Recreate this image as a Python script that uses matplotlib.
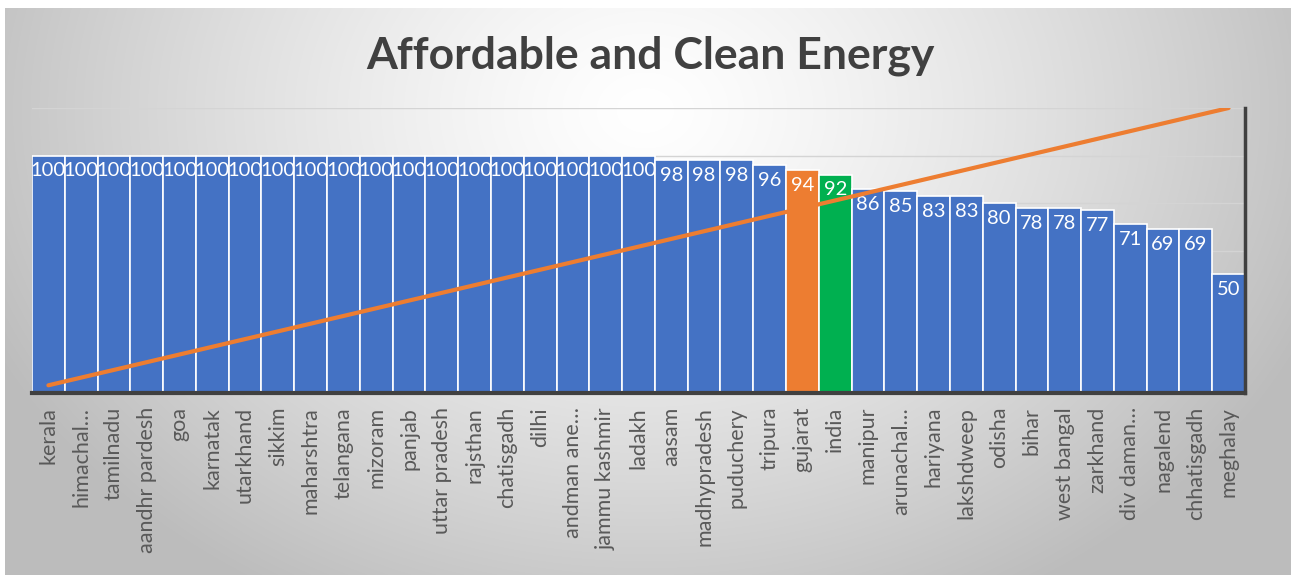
import numpy as np
import matplotlib.pyplot as plt
from matplotlib import font_manager

# Data
states = ["kerala", "himachal…", "tamilnadu", "aandhr pardesh", "goa", "karnatak",
          "utarkhand", "sikkim", "maharshtra", "telangana", "mizoram", "panjab",
          "uttar pradesh", "rajsthan", "chatisgadh", "dilhi", "andman ane…",
          "jammu kashmir", "ladakh", "aasam", "madhypradesh", "puduchery", "tripura",
          "gujarat", "india", "manipur", "arunachal…", "hariyana", "lakshdweep",
          "odisha", "bihar", "west bangal", "zarkhand", "div daman…", "nagalend",
          "chhatisgadh", "meghalay"]
scores = [100, 100, 100, 100, 100, 100, 100, 100, 100, 100, 100, 100, 100, 100,
          100, 100, 100, 100, 100, 98, 98, 98, 96, 94, 92, 86, 85, 83, 83, 80, 78,
          78, 77, 71, 69, 69, 50]
ranks = [1, 2, 3, 4, 5, 6, 7, 8, 9, 10, 11, 12, 13, 14, 15, 16, 17, 18, 19, 20,
         21, 22, 23, 24, 25, 26, 27, 28, 29, 30, 31, 32, 33, 34, 35, 36, 37]
highlight = {"gujarat": "#ED7D31", "india": "#00B050"}

names = {f.name for f in font_manager.fontManager.ttflist}
font = "Liberation Sans Narrow" if "Liberation Sans Narrow" in names else "Lato"

W, H = 1291, 575
fig = plt.figure(figsize=(W / 100, H / 100), dpi=100)

# radial grey gradient background
bg = fig.add_axes([0, 0, 1, 1], zorder=-10)
yy, xx = np.mgrid[0:H, 0:W]
d = np.sqrt(((xx - 645) / 720.0) ** 2 + ((yy - 110) / 560.0) ** 2)
v = 1.0 - 0.26 * np.clip(d, 0, 1) ** 1.3
img = np.dstack([v, v, v])
img[:8, :, :] = 1.0
img[:, :5, :] = 1.0
bg.imshow(img, aspect="auto", extent=(0, W, H, 0))
bg.set_xlim(0, W)
bg.set_ylim(H, 0)
bg.axis("off")

ax = fig.add_axes([32 / W, 1 - 393 / H, (1245 - 32) / W, (393 - 108) / H])
ax.patch.set_alpha(0)
x = np.arange(len(states))
colors = [highlight.get(s, "#4472C4") for s in states]
ax.bar(x, scores, width=1.0, color=colors, edgecolor="white", linewidth=1.2, zorder=2)
ax.set_xlim(-0.5, len(states) - 0.5)
ax.set_ylim(0, 120)
ax.set_yticks(range(0, 121, 20))
ax.yaxis.grid(True, color="#d4d4d4", linewidth=1, zorder=0)
ax.set_axisbelow(True)
ax.tick_params(axis="y", length=0, labelleft=False)
ax.tick_params(axis="x", length=0, pad=10)
ax.set_xticks(x)
ax.set_xticklabels(states, rotation=90, va="top", ha="center",
                   fontsize=15.5, color="#595959", family=font)
for s in ["left", "top", "right"]:
    ax.spines[s].set_visible(False)
ax.spines["bottom"].set_color("#404040")
ax.spines["bottom"].set_linewidth(3)

# value labels inside the top of each bar
for xi, val in zip(x, scores):
    ax.annotate(str(val), (xi, val), xytext=(0, -11), textcoords="offset points",
                ha="center", va="center", color="white", fontsize=14.5,
                family=font, zorder=4)

# rank line on a hidden secondary axis
ax2 = ax.twinx()
ax2.plot(x, ranks, color="#ED7D31", linewidth=3, solid_capstyle="round", zorder=5)
ax2.set_ylim(0, 37)
ax2.set_yticks([])
for s in ["left", "top", "bottom"]:
    ax2.spines[s].set_visible(False)
ax2.spines["right"].set_color("#404040")
ax2.spines["right"].set_linewidth(2.5)

fig.text(650 / W, 1 - 56 / H, "Affordable and Clean Energy", ha="center",
         va="center", fontsize=32, fontweight="bold", color="#404040", family=font)

fig.savefig("out.png", dpi=100)
